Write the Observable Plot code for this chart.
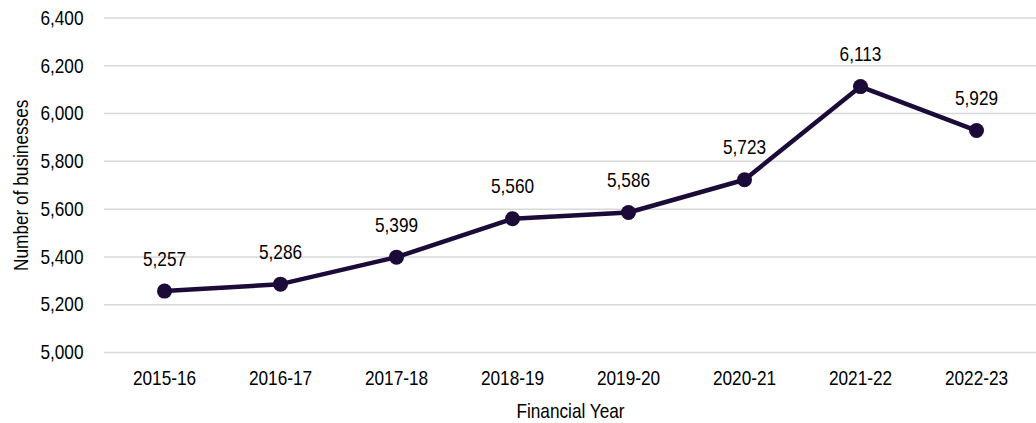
<!DOCTYPE html>
<html>
<head>
<meta charset="utf-8">
<script src="https://cdn.jsdelivr.net/npm/d3@7"></script>
<script src="https://cdn.jsdelivr.net/npm/@observablehq/plot@0.6"></script>
<style>
  html, body { margin: 0; padding: 0; background: #fff; }
  #chart { width: 1036px; height: 423px; }
</style>
</head>
<body>
<div id="chart"></div>
<script>
const years = ["2015-16", "2016-17", "2017-18", "2018-19", "2019-20", "2020-21", "2021-22", "2022-23"];
const businesses = [5257, 5286, 5399, 5560, 5586, 5723, 6113, 5929];
const yTicks = [5000, 5200, 5400, 5600, 5800, 6000, 6200, 6400];
const xTitle = "Financial Year";
const yTitle = "Number of businesses";

const data = years.map((y, i) => ({year: y, value: businesses[i]}));
const fmt = d3.format(",");
const lineColor = "#1c0a38";
const font = "'Liberation Sans', Arial, sans-serif";

const chart = Plot.plot({
  width: 1036,
  height: 423,
  marginLeft: 104,
  marginRight: 0,
  marginTop: 17.5,
  marginBottom: 71,
  style: {fontFamily: font, fontSize: "21px", color: "#000", background: "#fff"},
  x: {type: "point", domain: years, padding: 0.5},
  y: {domain: [5000, 6400]},
  marks: [
    Plot.gridY(yTicks, {stroke: "#d9d9d9", strokeOpacity: 1, strokeWidth: 1.5}),
    Plot.axisY(yTicks, {tickSize: 0, tickPadding: 21, tickFormat: fmt, label: null, fill: "#000"}),
    Plot.axisX({tickSize: 0, tickPadding: 18, label: null, fill: "#000"}),
    Plot.line(data, {x: "year", y: "value", stroke: lineColor, strokeWidth: 4.5}),
    Plot.dot(data, {x: "year", y: "value", r: 7.5, fill: lineColor, stroke: "none"}),
    Plot.text(data, {x: "year", y: "value", text: d => fmt(d.value), dy: -32, fill: "#000", lineAnchor: "middle"}),
    Plot.text([xTitle], {frameAnchor: "bottom", text: d => d, dy: 65, lineAnchor: "bottom", fill: "#000"}),
    Plot.text([yTitle], {frameAnchor: "left", text: d => d, rotate: -90, dx: -77, textAnchor: "middle", lineAnchor: "bottom", fill: "#000"})
  ]
});
document.getElementById("chart").appendChild(chart);
// Condense glyphs horizontally to mimic the narrow typeface of the reference
chart.querySelectorAll("text").forEach(t => {
  const len = t.getComputedTextLength();
  if (len > 0) {
    t.setAttribute("textLength", (len * 0.82).toFixed(2));
    t.setAttribute("lengthAdjust", "spacingAndGlyphs");
  }
});
</script>
</body>
</html>
